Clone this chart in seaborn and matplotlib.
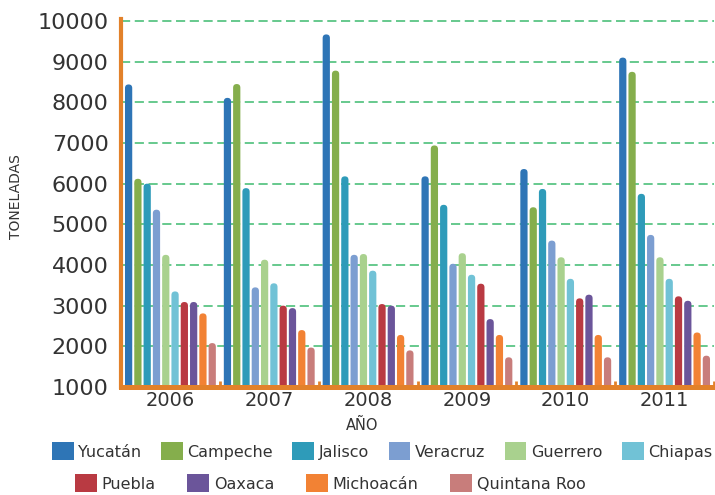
import numpy as np
import pandas as pd
import matplotlib
matplotlib.use("Agg")
import matplotlib.pyplot as plt
from matplotlib.patches import FancyBboxPatch, Patch
import seaborn as sns

years = ['2006', '2007', '2008', '2009', '2010', '2011']
states = ['Yucatán', 'Campeche', 'Jalisco', 'Veracruz', 'Guerrero', 'Chiapas',
          'Puebla', 'Oaxaca', 'Michoacán', 'Quintana Roo']

yucatan = [8440, 8110, 9670, 6180, 6360, 9100]
campeche = [6120, 8450, 8780, 6940, 5420, 8750]
jalisco = [6000, 5890, 6180, 5480, 5870, 5750]
veracruz = [5360, 3450, 4250, 4030, 4600, 4740]
guerrero = [4250, 4130, 4270, 4290, 4190, 4190]
chiapas = [3350, 3550, 3860, 3760, 3660, 3660]
puebla = [3090, 3000, 3040, 3540, 3180, 3230]
oaxaca = [3090, 2940, 3000, 2670, 3270, 3120]
michoacan = [2810, 2400, 2280, 2280, 2280, 2340]
quintana_roo = [2080, 1970, 1900, 1730, 1730, 1770]

colors = ['#2e75b6', '#85ae4c', '#2e9bb9', '#7c9ed1', '#a9d18e', '#71c2d6',
          '#b93a42', '#6b559a', '#f28234', '#c87d7b']
orange = '#e2812a'
grid_green = '#3dba6f'
text_col = '#333333'

series = [yucatan, campeche, jalisco, veracruz, guerrero, chiapas,
          puebla, oaxaca, michoacan, quintana_roo]
rows = []
for st, vals in zip(states, series):
    for yr, v in zip(years, vals):
        rows.append({'year': yr, 'state': st, 'value': v})
df = pd.DataFrame(rows)
palette = dict(zip(states, colors))

fig = plt.figure(figsize=(7.15, 4.95), dpi=100)
ax = fig.add_axes([121 / 715, 1 - 387 / 495, 593 / 715, 366 / 495])

sns.barplot(data=df, x='year', y='value', hue='state', hue_order=states,
            order=years, palette=palette, saturation=1, width=0.94, gap=0.22,
            legend=False, errorbar=None, ax=ax)

ax.set_xlim(-0.5, 5.5)
ax.set_ylim(1000, 10000)

# round the bar ends (pill shaped bars like the original)
fig.canvas.draw()
bbox = ax.get_window_extent()
px_x = bbox.width / 6.0
px_y = bbox.height / 9000.0
aspect = px_x / px_y
for p in list(ax.patches):
    x, y = p.get_x(), p.get_y()
    w, h = p.get_width(), p.get_height()
    fc = p.get_facecolor()
    p.remove()
    ax.add_patch(FancyBboxPatch((x, y), w, h,
                                boxstyle=f"round,pad=0,rounding_size={w / 2}",
                                mutation_aspect=aspect, fc=fc, ec='none', zorder=2))

ax.set_yticks(np.arange(1000, 10001, 1000))
ax.set_yticklabels([str(v) for v in range(1000, 10001, 1000)])
ax.yaxis.grid(True, color=grid_green, linestyle=(0, (6, 3)), linewidth=1.1)
for gl in ax.get_ygridlines():
    gl.set_clip_on(False)
ax.xaxis.grid(False)
ax.set_axisbelow(True)

for s in ['top', 'right']:
    ax.spines[s].set_visible(False)
ax.spines['left'].set_color(orange)
ax.spines['left'].set_linewidth(3)
ax.spines['left'].set_bounds(1000, 10050)
ax.spines['bottom'].set_color(orange)
ax.spines['bottom'].set_linewidth(3.6)
ax.spines['bottom'].set_zorder(3)

ax.tick_params(axis='y', length=0, pad=9, labelsize=16, labelcolor=text_col)
ax.tick_params(axis='x', which='major', length=0, pad=3, labelsize=14, labelcolor=text_col)
ax.set_xticks(np.arange(0.5, 6, 1), minor=True)
ax.tick_params(axis='x', which='minor', direction='in', length=4.5, width=2, color=orange)

ax.set_ylabel('TONELADAS', fontsize=10, color=text_col)
ax.yaxis.set_label_coords(-0.165, 0.52)
ax.set_xlabel('AÑO', fontsize=10.5, color=text_col)
ax.xaxis.set_label_coords(0.406, -0.085)

handles = [Patch(facecolor=c, edgecolor='none') for c in colors]
leg1 = fig.legend(handles[:6], states[:6], loc='upper left', ncol=6,
                  bbox_to_anchor=(52 / 715, 1 - 442 / 495), frameon=False,
                  fontsize=11.5, handlelength=1.35, handleheight=1.4,
                  handletextpad=0.3, columnspacing=1.22, borderpad=0,
                  borderaxespad=0, labelcolor=text_col)
leg2 = fig.legend(handles[6:], states[6:], loc='upper left', ncol=4,
                  bbox_to_anchor=(75 / 715, 1 - 474 / 495), frameon=False,
                  fontsize=11.5, handlelength=1.35, handleheight=1.4,
                  handletextpad=0.3, columnspacing=2.0, borderpad=0,
                  borderaxespad=0, labelcolor=text_col)

fig.savefig('out.png', dpi=100)
